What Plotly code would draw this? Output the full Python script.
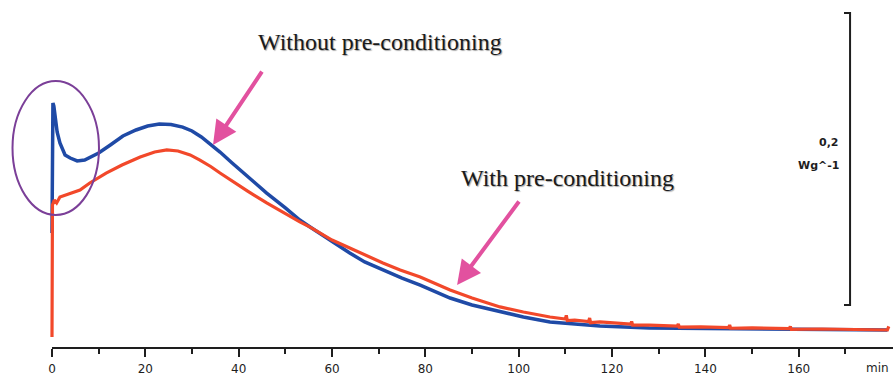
import plotly.graph_objects as go

# DSC heat-flow traces (time in min, heat flow in W/g above baseline)
t_without = [0, 0.05, 0.2, 0.4, 0.6, 0.8, 1.1, 1.7, 2.8, 3.9, 5.4, 7, 8.5, 10, 12.5,
             15.2, 18, 20.5, 23, 25.5, 28, 30, 32, 34.5, 36, 38.6, 42, 46, 50, 53.1,
             55.3, 60, 63.8, 67, 70.9, 75, 78.9, 85.3, 90, 96, 101, 106.7, 112, 117.4,
             128, 139, 150, 165, 179]
hf_without = [0.0664, 0.1233, 0.1555, 0.1534, 0.1493, 0.1425, 0.1356, 0.1281, 0.1199,
              0.1178, 0.1158, 0.1164, 0.1185, 0.1212, 0.1267, 0.1329, 0.1370, 0.1397,
              0.1411, 0.1408, 0.1390, 0.1363, 0.1322, 0.1260, 0.1219, 0.1144, 0.1048,
              0.0938, 0.0836, 0.0753, 0.0705, 0.0603, 0.0527, 0.0466, 0.0411, 0.0356,
              0.0308, 0.0219, 0.0171, 0.0123, 0.0089, 0.0055, 0.0041, 0.0027, 0.0014,
              0.0010, 0.0007, 0.0, 0.0]

t_with = [0, 0.1, 0.5, 1.0, 1.7, 3.9, 6, 8.1, 11.6, 15, 18.9, 22, 24.6, 27, 29.6, 31.7,
          34, 36, 38.6, 42, 46, 50, 53.1, 55.3, 60, 63.8, 67, 70.9, 74.6, 78.9, 85.3,
          90, 96, 101, 106.7, 110, 110.2, 110.4, 112, 115, 115.2, 115.4, 117.4, 124,
          124.2, 124.4, 128, 134, 134.2, 134.4, 139, 145, 145.2, 145.4, 150, 158,
          158.2, 158.4, 165, 179, 179.3]
hf_with = [-0.0048, 0.0856, 0.0890, 0.0870, 0.0911, 0.0938, 0.0959, 0.1007, 0.1075,
           0.1130, 0.1185, 0.1219, 0.1233, 0.1226, 0.1199, 0.1164, 0.1120, 0.1075,
           0.1020, 0.0950, 0.0870, 0.0795, 0.0740, 0.0705, 0.0616, 0.0562, 0.0514,
           0.0459, 0.0411, 0.0363, 0.0274, 0.0219, 0.0158, 0.0123, 0.0089, 0.0075,
           0.0100, 0.0065, 0.0068, 0.0058, 0.0082, 0.0050, 0.0055, 0.0040, 0.0058,
           0.0034, 0.0034, 0.0026, 0.0042, 0.0020, 0.0021, 0.0017, 0.0034, 0.0012,
           0.0014, 0.0010, 0.0024, 0.0005, 0.0007, 0.0, 0.0025]

major_ticks = [0, 20, 40, 60, 80, 100, 120, 140, 160]
minor_ticks = [10, 30, 50, 70, 90, 110, 130, 150, 170]
scale_value = 0.2          # W/g represented by the scale bar
scale_labels = ["0,2", "Wg^-1"]
label_without = "Without pre-conditioning"
label_with = "With pre-conditioning"

X_RANGE = [-11.14, 180.2]
Y_RANGE = [-0.01233, 0.22603]

BLUE = "#1f4aa6"
RED = "#f2482a"
PINK = "#e2519f"
PURPLE = "#7b3f98"
INK = "#1e1e1e"
SHADOW = "1px 1px 1px rgba(0,0,0,0.35)"

fig = go.Figure()
fig.add_trace(go.Scatter(x=t_without, y=hf_without, mode="lines",
                         line=dict(color=BLUE, width=3.5),
                         showlegend=False))
fig.add_trace(go.Scatter(x=t_with, y=hf_with, mode="lines",
                         line=dict(color=RED, width=3.2),
                         showlegend=False))

shapes = []
# x axis baseline starting at t = 0
shapes.append(dict(type="line", xref="x", yref="paper", x0=0, x1=X_RANGE[1], y0=0, y1=0,
                   line=dict(color=INK, width=2)))
# scale bracket for heat flow
bar_x = 171.0
bar_y0 = 0.0171
shapes.append(dict(type="path", xref="x", yref="y",
                   path=f"M {bar_x-1.3},{bar_y0+scale_value} L {bar_x},{bar_y0+scale_value} "
                        f"L {bar_x},{bar_y0} L {bar_x-1.3},{bar_y0}",
                   line=dict(color=INK, width=2)))
# ellipse highlighting the initial peak
shapes.append(dict(type="circle", xref="x", yref="y", x0=-8.46, x1=10.07, y0=0.0788, y1=0.1705,
                   line=dict(color=PURPLE, width=2)))

serif = dict(family="Liberation Serif", size=24, color="#1a1a1a", shadow=SHADOW)
sans_bold = dict(family="DejaVu Sans", size=11, color=INK, weight="bold")

annotations = [
    dict(x=70.3, y=0.1973, xref="x", yref="y", text=label_without, showarrow=False, font=serif),
    dict(x=110.5, y=0.1041, xref="x", yref="y", text=label_with, showarrow=False, font=serif),
    dict(x=34.5, y=0.1267, ax=45.2, ay=0.178, xref="x", yref="y", axref="x", ayref="y",
         text="", showarrow=True, arrowhead=2, arrowsize=1.2, arrowwidth=4, arrowcolor=PINK),
    dict(x=86.8, y=0.0308, ax=100.3, ay=0.089, xref="x", yref="y", axref="x", ayref="y",
         text="", showarrow=True, arrowhead=2, arrowsize=1.2, arrowwidth=4, arrowcolor=PINK),
    dict(x=169.06, y=0.1281, xref="x", yref="y", text=scale_labels[0], showarrow=False,
         xanchor="right", font=sans_bold),
    dict(x=169.06, y=0.1130, xref="x", yref="y", text=scale_labels[1], showarrow=False,
         xanchor="right", font=sans_bold),
    dict(x=176.8, y=0, xref="x", yref="paper", text="min", showarrow=False,
         yanchor="middle", yshift=-20, font=dict(family="DejaVu Sans", size=12, color=INK)),
]

fig.update_layout(
    width=893, height=377,
    margin=dict(l=0, r=0, t=0, b=29),
    paper_bgcolor="white", plot_bgcolor="white",
    shapes=shapes, annotations=annotations,
    xaxis=dict(range=X_RANGE, automargin=False, showgrid=False, zeroline=False,
               showline=False,
               tickmode="array", tickvals=major_ticks, ticktext=[str(v) for v in major_ticks],
               ticks="outside", ticklen=8, tickwidth=2, tickcolor=INK,
               ticklabelstandoff=2,
               tickfont=dict(family="DejaVu Sans", size=12, color=INK),
               minor=dict(tickmode="array", tickvals=minor_ticks, ticks="outside",
                          ticklen=5, tickwidth=2, tickcolor=INK, showgrid=False)),
    yaxis=dict(range=Y_RANGE, visible=False, showgrid=False, zeroline=False),
)

fig.write_html("out.html")
